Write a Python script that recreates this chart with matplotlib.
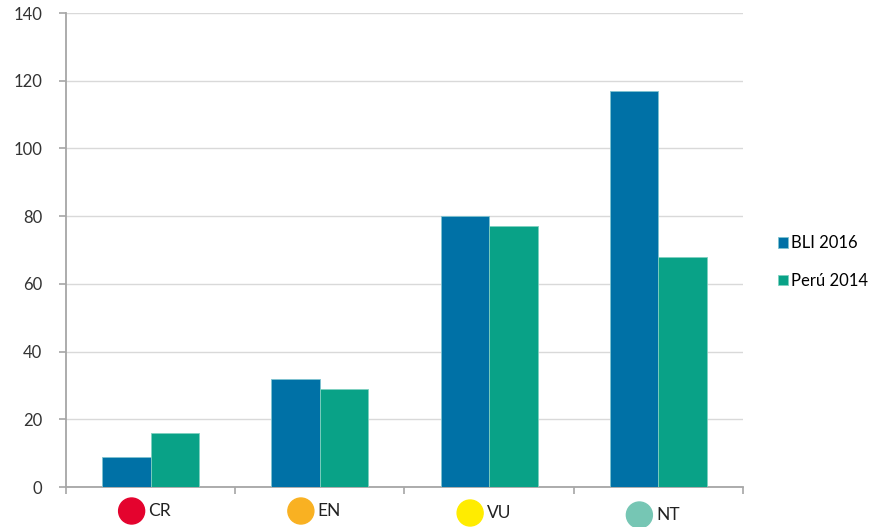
import matplotlib.pyplot as plt
from matplotlib.patches import Ellipse
import numpy as np

plt.rcParams['font.family'] = ['Lato', 'DejaVu Sans']

categories = ["CR", "EN", "VU", "NT"]
cat_colors = ["#E4032E", "#F9B122", "#FFEC00", "#76C6B4"]
bli_2016 = [9, 32, 80, 117]
peru_2014 = [16, 29, 77, 68]

BLUE = "#0071A6"
GREEN = "#09A287"
AXIS_GRAY = "#A6A6A6"

fig = plt.figure(figsize=(8.78, 5.27), dpi=100)
ax = fig.add_axes([66 / 878, 1 - 487 / 527, (743 - 66) / 878, (487 - 13) / 527])

x = np.arange(len(categories))
w = 0.287
ax.bar(x - w / 2, bli_2016, w, color=BLUE, edgecolor="#7FC4D0", linewidth=0.6,
       label="BLI 2016", zorder=3)
ax.bar(x + w / 2, peru_2014, w, color=GREEN, edgecolor="#7FD0C0", linewidth=0.6,
       label="Perú 2014", zorder=3)

ax.set_xlim(-0.5, len(categories) - 0.5)
ax.set_ylim(0, 140)
ax.set_yticks(range(0, 141, 20))
ax.yaxis.grid(True, color="#D9D9D9", linewidth=1)
ax.set_axisbelow(True)

for side in ["top", "right"]:
    ax.spines[side].set_visible(False)
ax.spines["left"].set_color(AXIS_GRAY)
ax.spines["bottom"].set_color(AXIS_GRAY)
ax.spines["left"].set_linewidth(1.3)
ax.spines["bottom"].set_linewidth(1.3)

ax.set_xticks(np.arange(-0.5, len(categories), 1.0))
ax.set_xticklabels([])
ax.tick_params(axis="x", length=5, width=1.2, color=AXIS_GRAY)
ax.tick_params(axis="y", length=5, width=1.2, color=AXIS_GRAY, pad=12,
               labelsize=12, labelcolor="#333333")

# category labels with coloured dots below the axis
dot_y = [511, 511, 513, 515]
for i, (cat, col) in enumerate(zip(categories, cat_colors)):
    cx = 66 + (i + 0.5) * (743 - 66) / len(categories)
    fy = 1 - dot_y[i] / 527
    fig.patches.append(Ellipse(((cx - 19) / 878, fy), 26 / 878, 26 / 527,
                               transform=fig.transFigure, color=col,
                               figure=fig))
    fig.text((cx - 2) / 878, fy, cat, ha="left", va="center",
             fontsize=12.5, color="#222222")

handles, labels = ax.get_legend_handles_labels()
fig.legend(handles, labels, loc="center left", bbox_to_anchor=(778 / 878, 1 - 262 / 527),
           frameon=False, fontsize=12, handlelength=0.6, handleheight=0.6,
           handletextpad=0.2, labelspacing=1.3, borderpad=0, borderaxespad=0)

fig.savefig("out.png", dpi=100)
